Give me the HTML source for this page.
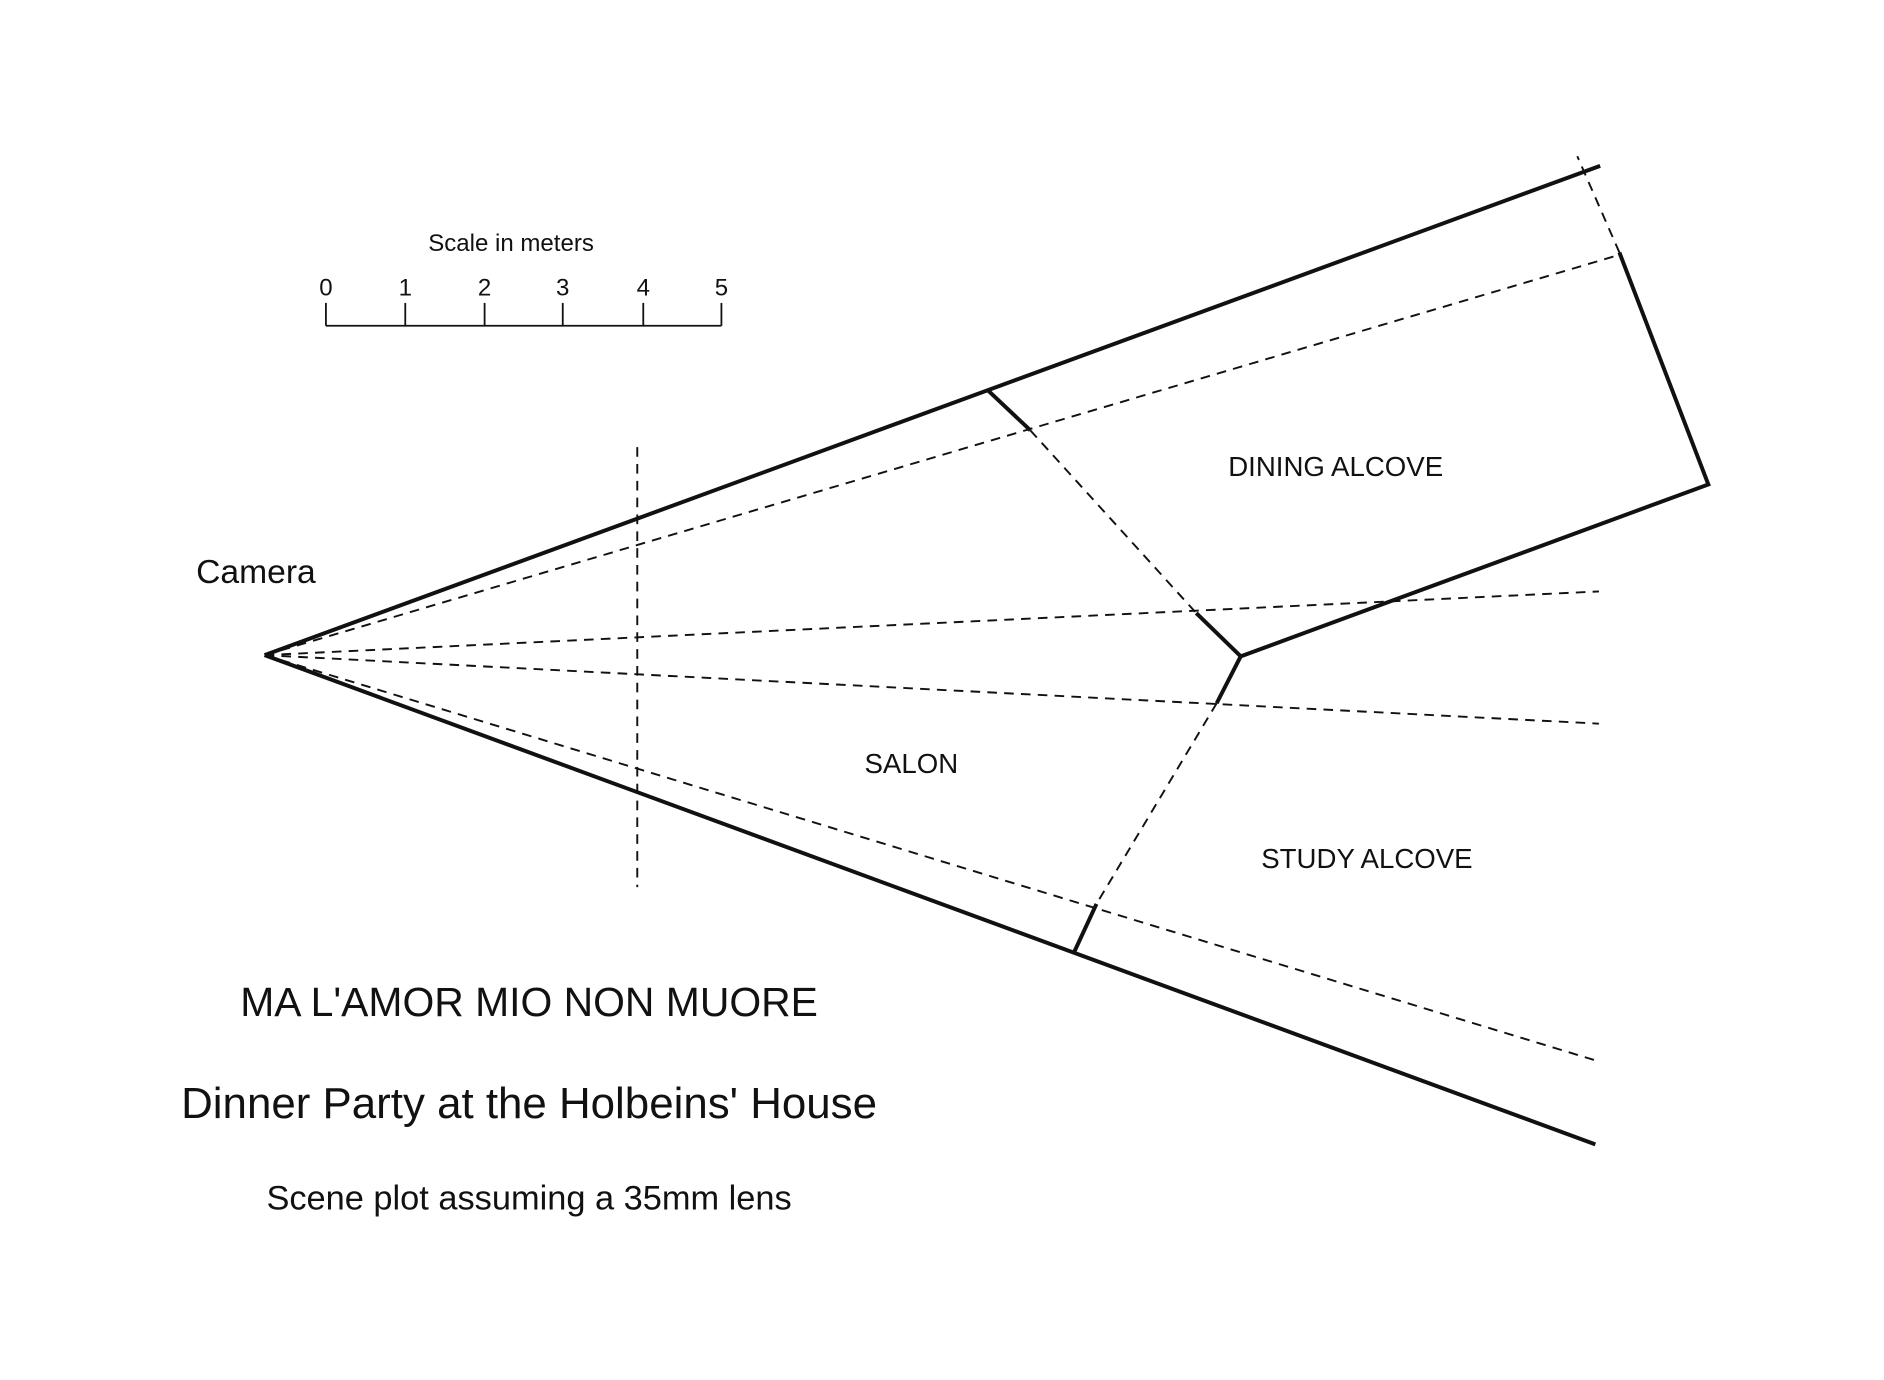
<!DOCTYPE html>
<html><head><meta charset="utf-8"><style>
html,body{margin:0;padding:0;background:#fff;}
svg{display:block;}
text{font-family:"Liberation Sans",sans-serif;fill:#111;}
</style></head><body>
<svg width="1884" height="1380" viewBox="0 0 1567 1148" xmlns="http://www.w3.org/2000/svg">
<rect width="1567" height="1148" fill="#fff"/>
<g stroke="#111" fill="none" stroke-linecap="butt">
  <g stroke-width="3.3">
    <line x1="220" y1="545" x2="1331" y2="138"/>
    <line x1="220" y1="545" x2="1327" y2="952"/>
    <line x1="822" y1="325" x2="857" y2="358"/>
    <line x1="995" y1="510" x2="1032" y2="546"/>
    <polyline points="1032,546 1421,403 1347,210"/>
    <line x1="1032" y1="546" x2="1012" y2="585"/>
    <line x1="912" y1="752" x2="893" y2="793"/>
  </g>
  <g stroke-width="1.6" stroke-dasharray="8,6">
    <line x1="857" y1="358" x2="995" y2="510"/>
    <line x1="1012" y1="585" x2="912" y2="752"/>
    <line x1="1347" y1="210" x2="1312" y2="130"/>
    <line x1="220" y1="545" x2="1347" y2="212"/>
    <line x1="220" y1="545" x2="1330" y2="492"/>
    <line x1="220" y1="545" x2="1330" y2="602"/>
    <line x1="220" y1="545" x2="1330" y2="883"/>
    <line x1="530" y1="372" x2="530" y2="738"/>
  </g>
  <g stroke-width="1.5">
    <line x1="271" y1="271" x2="600" y2="271"/>
    <line x1="271" y1="252" x2="271" y2="271"/>
    <line x1="337" y1="252" x2="337" y2="271"/>
    <line x1="403" y1="252" x2="403" y2="271"/>
    <line x1="468" y1="252" x2="468" y2="271"/>
    <line x1="535" y1="252" x2="535" y2="271"/>
    <line x1="600" y1="252" x2="600" y2="271"/>
  </g>
</g>
<g text-anchor="middle">
  <text x="425" y="209" font-size="20">Scale in meters</text>
  <text x="271" y="246" font-size="20">0</text>
  <text x="337" y="246" font-size="20">1</text>
  <text x="403" y="246" font-size="20">2</text>
  <text x="468" y="246" font-size="20">3</text>
  <text x="535" y="246" font-size="20">4</text>
  <text x="600" y="246" font-size="20">5</text>
  <text x="1111" y="396" font-size="23">DINING ALCOVE</text>
  <text x="758" y="643" font-size="23">SALON</text>
  <text x="1137" y="722" font-size="23">STUDY ALCOVE</text>
  <text x="440" y="845" font-size="34">MA L'AMOR MIO NON MUORE</text>
  <text x="440" y="930" font-size="36.5">Dinner Party at the Holbeins' House</text>
  <text x="440" y="1006" font-size="28.6">Scene plot assuming a 35mm lens</text>
</g>
<text x="163" y="485" font-size="28">Camera</text>
</svg>
</body></html>
